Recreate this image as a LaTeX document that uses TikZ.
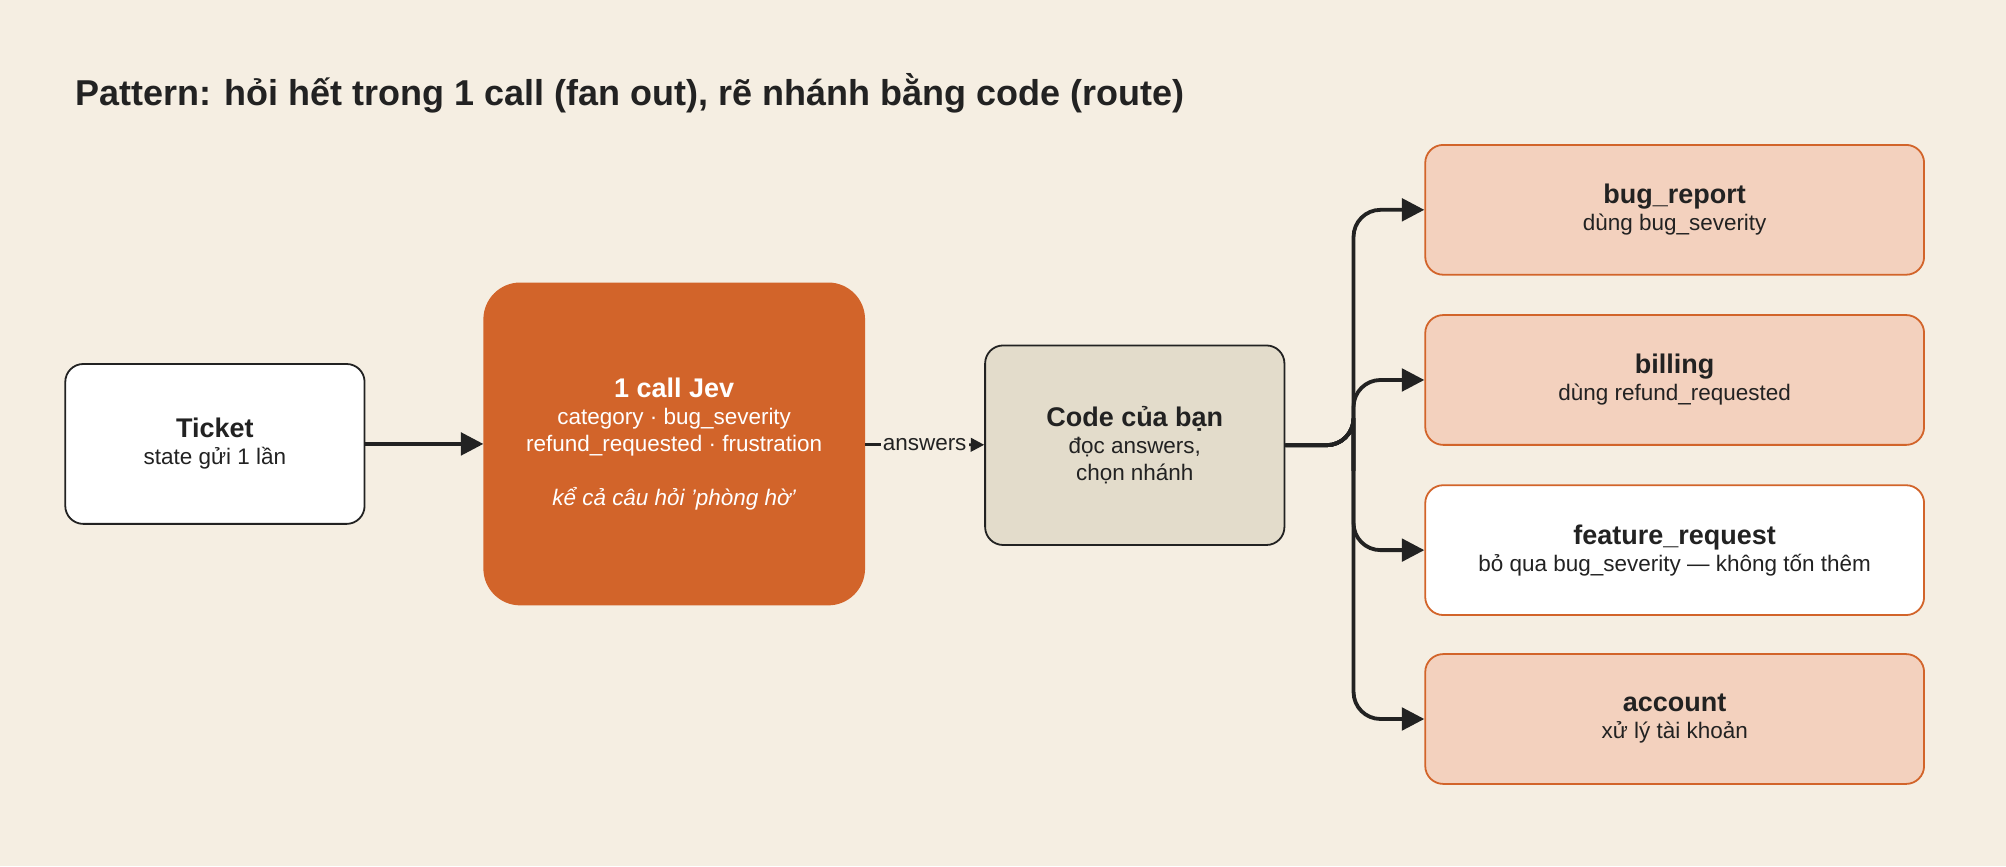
\documentclass[tikz,border=0pt]{standalone}
\usepackage{fontspec}
\setmainfont{Liberation Sans}
\usetikzlibrary{positioning, arrows.meta}
\definecolor{bgcol}{HTML}{F5EEE2}
\definecolor{jevcol}{HTML}{D2642A}
\definecolor{codecol}{HTML}{E3DCCB}
\definecolor{routecol}{HTML}{F3D1BE}
\definecolor{inkcol}{HTML}{222222}
\begin{document}
\begin{tikzpicture}[x=0.02cm, y=-0.02cm]
	\tikzstyle{box}=[draw=inkcol, line width=0.8pt, rounded corners=8pt, align=center, text=inkcol, font=\fontsize{10}{12}\selectfont]
	\tikzstyle{route}=[box, draw=jevcol, fill=routecol, minimum width=7.8cm, minimum height=2.03cm]
	\tikzstyle{link}=[draw=inkcol, line width=1.7pt, -{Triangle[length=10pt,width=10pt]}]
	\tikzstyle{branch}=[link, rounded corners=12pt]

	\fill[bgcol] (0,0) rectangle (1568,677);
	\node[anchor=west, text=inkcol, font=\fontsize{16}{19}\selectfont\bfseries] (title) at (53,73) {Pattern: hỏi hết trong 1 call (fan out), rẽ nhánh bằng code (route)};

	\node[box, fill=white, minimum width=4.68cm, minimum height=2.5cm] (ticket) at (168,347) {{\fontsize{12}{14}\selectfont\bfseries Ticket}\\state gửi 1 lần};
	\node[box, draw=jevcol, fill=jevcol, text=white, rounded corners=16pt, minimum width=5.94cm, minimum height=5.02cm] (jev) at (527,347) {{\fontsize{12}{14}\selectfont\bfseries 1 call Jev}\\category · bug\_severity\\refund\_requested · frustration\\[1.2em]\textit{kể cả câu hỏi 'phòng hờ'}};
	\node[box, fill=codecol, minimum width=4.68cm, minimum height=3.12cm] (code) at (887,348) {{\fontsize{12}{14}\selectfont\bfseries Code của bạn}\\đọc answers,\\chọn nhánh};

	\node[route] (bug) at (1309,164) {{\fontsize{12}{14}\selectfont\bfseries bug\_report}\\dùng bug\_severity};
	\node[route] (billing) at (1309,297) {{\fontsize{12}{14}\selectfont\bfseries billing}\\dùng refund\_requested};
	\node[route, fill=white] (feature) at (1309,430) {{\fontsize{12}{14}\selectfont\bfseries feature\_request}\\bỏ qua bug\_severity — không tốn thêm};
	\node[route] (account) at (1309,562) {{\fontsize{12}{14}\selectfont\bfseries account}\\xử lý tài khoản};

	\draw[link] (ticket) -- (jev);
	\draw[draw=inkcol, line width=1.2pt, -{Triangle[length=6pt,width=6pt]}] (jev) -- node[fill=bgcol, inner sep=1pt, text=inkcol, font=\fontsize{10}{12}\selectfont] {answers} (code);
	\foreach \target in {bug, billing, feature, account}
		\draw[branch] (code.east) -| (1058,347) |- (\target.west);
\end{tikzpicture}
\end{document}
